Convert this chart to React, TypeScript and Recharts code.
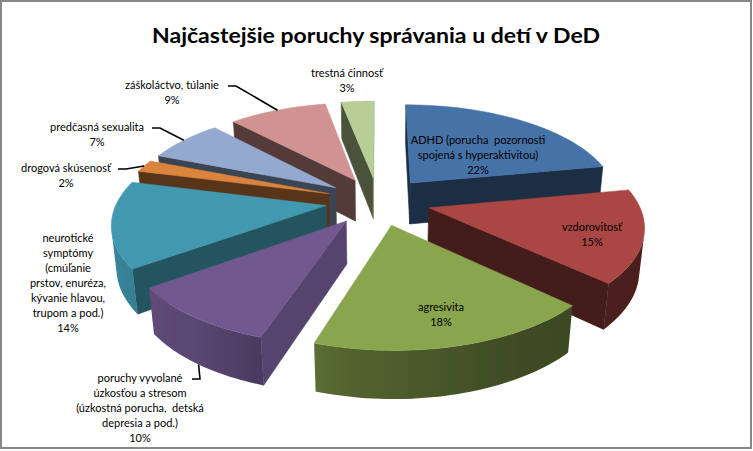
import React from 'react';
import { PieChart, Pie } from 'recharts';

// ---- data ----
const CATEGORIES = [
  'ADHD',
  'vzdorovitosť',
  'agresivita',
  'poruchy vyvolané úzkosťou a stresom',
  'neurotické symptómy',
  'drogová skúsenosť',
  'predčasná sexualita',
  'záškoláctvo, túlanie',
  'trestná činnosť',
];
const VALUES = [22, 15, 18, 10, 14, 2, 7, 9, 3];
const LABEL_LINES = [
  ['ADHD (porucha  pozornosti', 'spojená s hyperaktivitou)'],
  ['vzdorovitosť'],
  ['agresivita'],
  ['poruchy vyvolané', 'úzkosťou a stresom', '(úzkostná porucha,  detská', 'depresia a pod.)'],
  ['neurotické', 'symptómy', '(cmúľanie', 'prstov, enuréza,', 'kývanie hlavou,', 'trupom a pod.)'],
  ['drogová skúsenosť'],
  ['predčasná sexualita'],
  ['záškoláctvo, túlanie'],
  ['trestná činnosť'],
];
const TITLE = 'Najčastejšie poruchy správania u detí v DeD';

// ---- styles ----
const COLORS = ['#4572A7', '#AA4643', '#89A54E', '#71588F', '#4198AF', '#DB843D', '#93A9CF', '#D19392', '#B9CD96'];
const W = 753;
const H = 451;
const PIE_CX = 378;
const PIE_CY = 201;
const PIE_R = 209;
const DIST = 5.5; // camera distance in radii
const TILT = (27.4 * Math.PI) / 180;
const EXPLODE = 0.25;
const DEPTH = 0.23;
const FONT = 'Lato, "Open Sans", sans-serif';
const LINE_H = 15;

// label placement relative to pie centre (first line centre)
const LABEL_LAYOUT: any[] = [
  { dx: 100, dy: -61 },
  { dx: 214, dy: 26 },
  { dx: 63, dy: 106 },
  { dx: -238, dy: 177, leader: 52, bottom: true },
  { dx: -310, dy: 37 },
  { dx: -312, dy: -33, leader: 52 },
  { dx: -281, dy: -74, leader: 55 },
  { dx: -206, dy: -116, leader: 56 },
  { dx: -31, dy: -128 },
];

const WALL_SHADE = [[0, 0.5], [170, 0.9], [200, 0.88], [235, 0.8], [260, 0.6], [300, 0.45], [360, 0.42]];
const RADIAL_SHADE = [[0, 0.8], [170, 0.4], [290, 0.4], [306, 0.55], [342, 0.77], [360, 0.8]];

const data = CATEGORIES.map((name, i) => ({ name, value: VALUES[i] }));

function interp(table: number[][], xIn: number) {
  const x = ((xIn % 360) + 360) % 360;
  for (let i = 0; i < table.length - 1; i++) {
    const [x0, y0] = table[i];
    const [x1, y1] = table[i + 1];
    if (x >= x0 && x <= x1) return y0 + ((y1 - y0) * (x - x0)) / (x1 - x0 || 1);
  }
  return table[table.length - 1][1];
}

function shade(hex: string, f: number) {
  const n = parseInt(hex.slice(1), 16);
  const r = Math.round(((n >> 16) & 255) * f);
  const g = Math.round(((n >> 8) & 255) * f);
  const b = Math.round((n & 255) * f);
  return `rgb(${r},${g},${b})`;
}

function makeProjector(p: any) {
  const { cx, cy, outerRadius, startAngle, endAngle } = p;
  const lo = Math.min(startAngle, endAngle);
  const hi = Math.max(startAngle, endAngle);
  const K = outerRadius * DIST;
  const C = Math.cos(TILT);
  const S = Math.sin(TILT);
  const mid = (((lo + hi) / 2) * Math.PI) / 180;
  const ox = EXPLODE * Math.cos(mid);
  const oy = EXPLODE * Math.sin(mid);
  const P = (X: number, Y: number, Z: number) => {
    const den = DIST + Y * C - Z * S;
    return [cx + (K * X) / den, cy - (K * (Y * S + Z * C)) / den];
  };
  const rim = (aRad: number, Z: number) => P(ox + Math.cos(aRad), oy + Math.sin(aRad), Z);
  return { lo, hi, mid, ox, oy, P, rim, C, S };
}

const pts = (arr: number[][]) => arr.map((q) => `${q[0].toFixed(2)},${q[1].toFixed(2)}`).join(' ');

function renderSlice(p: any) {
  const color = COLORS[p.index];
  const { lo, hi, ox, oy, P, rim, C } = makeProjector(p);
  const camY = -DIST * C;
  const vis = (px: number, py: number, nx: number, ny: number) => (0 - px) * nx + (camY - py) * ny > 0;
  const rad = (d: number) => (d * Math.PI) / 180;
  const Z = -DEPTH;
  const faces: any[] = [];
  const defs: any[] = [];

  // radial faces
  const hiN = hi + 90;
  if (vis(ox, oy, Math.cos(rad(hiN)), Math.sin(rad(hiN)))) {
    const c = shade(color, interp(RADIAL_SHADE, hiN));
    faces.push(
      <polygon key="rh" points={pts([P(ox, oy, 0), rim(rad(hi), 0), rim(rad(hi), Z), P(ox, oy, Z)])} fill={c} stroke={c} strokeWidth={0.6} strokeLinejoin="round" />
    );
  }
  const loN = lo - 90;
  if (vis(ox, oy, Math.cos(rad(loN)), Math.sin(rad(loN)))) {
    const c = shade(color, interp(RADIAL_SHADE, loN));
    faces.push(
      <polygon key="rl" points={pts([P(ox, oy, 0), rim(rad(lo), 0), rim(rad(lo), Z), P(ox, oy, Z)])} fill={c} stroke={c} strokeWidth={0.6} strokeLinejoin="round" />
    );
  }

  // outer wall: find visible angular range, draw as one strip with a gradient
  const steps = Math.max(8, Math.ceil((hi - lo) * 2));
  let va0: number | null = null;
  let va1: number | null = null;
  for (let s = 0; s < steps; s++) {
    const a0 = lo + ((hi - lo) * s) / steps;
    const a1 = lo + ((hi - lo) * (s + 1)) / steps;
    const am = (a0 + a1) / 2;
    const px = ox + Math.cos(rad(am));
    const py = oy + Math.sin(rad(am));
    if (!vis(px, py, Math.cos(rad(am)), Math.sin(rad(am)))) continue;
    if (va0 === null) va0 = a0;
    va1 = a1;
  }
  if (va0 !== null && va1 !== null) {
    const n = Math.max(4, Math.ceil((va1 - va0) / 1.5));
    const angles: number[] = [];
    for (let s = 0; s <= n; s++) angles.push(va0 + ((va1 - va0) * s) / n);
    const topPts = angles.map((a) => rim(rad(a), 0));
    const botPts = angles.map((a) => rim(rad(a), Z)).reverse();
    const xs = topPts.map((q) => q[0]);
    const x0 = xs[0];
    const x1 = xs[xs.length - 1];
    const id = `wallgrad-${p.index}`;
    let fill: string;
    if (Math.abs(x1 - x0) > 1) {
      defs.push(
        <linearGradient key={id} id={id} gradientUnits="userSpaceOnUse" x1={x0} y1={0} x2={x1} y2={0}>
          {angles.map((a, j) => (
            <stop key={j} offset={Math.min(1, Math.max(0, (xs[j] - x0) / (x1 - x0)))} stopColor={shade(color, interp(WALL_SHADE, a))} />
          ))}
        </linearGradient>
      );
      fill = `url(#${id})`;
    } else {
      fill = shade(color, interp(WALL_SHADE, (va0 + va1) / 2));
    }
    faces.push(<polygon key="wall" points={pts([...topPts, ...botPts])} fill={fill} />);
  }

  // top face
  const top: number[][] = [P(ox, oy, 0)];
  const tsteps = Math.max(4, Math.ceil((hi - lo) / 1.5));
  for (let s = 0; s <= tsteps; s++) {
    const a = hi - ((hi - lo) * s) / tsteps;
    top.push(rim(rad(a), 0));
  }
  faces.push(<polygon key="top" points={pts(top)} fill={color} stroke={color} strokeWidth={0.5} strokeLinejoin="round" />);
  return (
    <g>
      <defs>{defs}</defs>
      {faces}
    </g>
  );
}

function renderLabel(p: any) {
  const i = p.index;
  const L = LABEL_LAYOUT[i];
  const x = p.cx + L.dx;
  const y0 = p.cy + L.dy;
  const lines = [...LABEL_LINES[i], `${Math.round(p.percent * 100)}%`];
  let leader = null;
  if (L.leader != null) {
    const { mid, rim } = makeProjector(p);
    const [ex, ey] = rim(mid, L.bottom ? -DEPTH : 0);
    const sx = x + L.leader;
    const sy = y0 + 1;
    leader = (
      <polyline points={`${sx},${sy} ${sx + 8},${sy} ${ex.toFixed(1)},${ey.toFixed(1)}`} fill="none" stroke="#000" strokeWidth={1.6} />
    );
  }
  return (
    <g>
      {leader}
      <text textAnchor="middle" fontFamily={FONT} fontSize={11} fill="#000" style={{ whiteSpace: 'pre' }}>
        {lines.map((t, j) => (
          <tspan key={j} x={x} y={y0 + 4 + j * LINE_H}>
            {t}
          </tspan>
        ))}
      </text>
    </g>
  );
}

// depth order: back slices first
const TOTAL = VALUES.reduce((a, b) => a + b, 0);
const ORDER = (() => {
  let cum = 0;
  const mids = VALUES.map((v) => {
    const m = 90 - (360 * (cum + v / 2)) / TOTAL;
    cum += v;
    return Math.sin((m * Math.PI) / 180);
  });
  return mids.map((_, i) => i).sort((a, b) => mids[b] - mids[a]);
})();

export default function App() {
  return (
    <div style={{ position: 'absolute', left: 0, top: 0, width: W, height: H, background: '#fff' }}>
      <PieChart width={W} height={H} margin={{ top: 0, right: 0, bottom: 0, left: 0 }}>
        {ORDER.map((k) => (
          <Pie
            key={`slice-${k}`}
            data={data}
            dataKey="value"
            nameKey="name"
            cx={PIE_CX}
            cy={PIE_CY}
            outerRadius={PIE_R}
            startAngle={90}
            endAngle={-270}
            fill="none"
            stroke="none"
            isAnimationActive={false}
            labelLine={false}
            label={(p: any) => (p.index === k ? renderSlice(p) : null)}
          />
        ))}
        <Pie
          key="labels"
          data={data}
          dataKey="value"
          nameKey="name"
          cx={PIE_CX}
          cy={PIE_CY}
          outerRadius={PIE_R}
          startAngle={90}
          endAngle={-270}
          fill="none"
          stroke="none"
          isAnimationActive={false}
          labelLine={false}
          label={renderLabel}
        />
      </PieChart>
      <svg width={W} height={H} style={{ position: 'absolute', left: 0, top: 0, pointerEvents: 'none' }}>
        <rect x={1} y={1} width={750} height={447} fill="none" stroke="#878787" strokeWidth={2} />
        <text x={376} y={43} textAnchor="middle" fontFamily={FONT} fontWeight="bold" fontSize={21} fill="#000" textLength={448} lengthAdjust="spacingAndGlyphs">
          {TITLE}
        </text>
      </svg>
    </div>
  );
}
